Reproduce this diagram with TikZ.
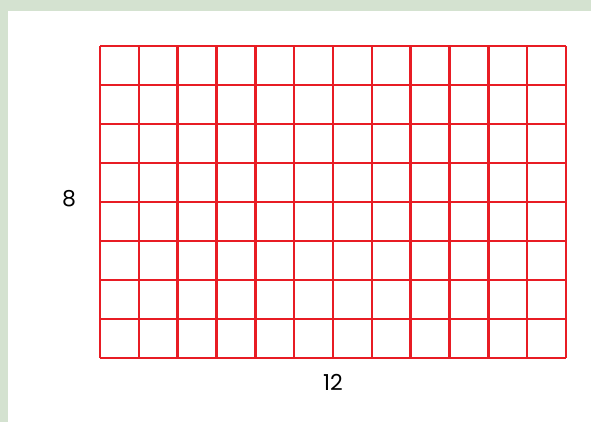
\documentclass[tikz,border=0pt]{standalone}
\usepackage{fontspec}
\setmainfont{Poppins}
\definecolor{gridred}{RGB}{232,28,36}
\definecolor{paper}{RGB}{212,226,208}
\begin{document}
\begin{tikzpicture}[x=1pt,y=1pt,
  gridline/.style={draw=gridred,line width=2.4pt},
  lbl/.style={font=\fontsize{22}{26}\selectfont,text=black,inner sep=0pt}]
\useasboundingbox (0,0) rectangle (591,422);
\fill[white] (0,0) rectangle (591,422);
\fill[paper] (0,411) rectangle (591,422);
\fill[paper] (0,0) rectangle (8,422);
% grid
\foreach \i in {0,...,12} {
  \draw[gridline] ({100+\i*466/12},64) -- ({100+\i*466/12},376);
}
\foreach \j in {0,...,8} {
  \draw[gridline] (100,{64+\j*39}) -- (566,{64+\j*39});
}
\node[lbl] (rows) at (69,223) {8};
\node[lbl] (cols) at (333,40) {12};
\end{tikzpicture}
\end{document}
